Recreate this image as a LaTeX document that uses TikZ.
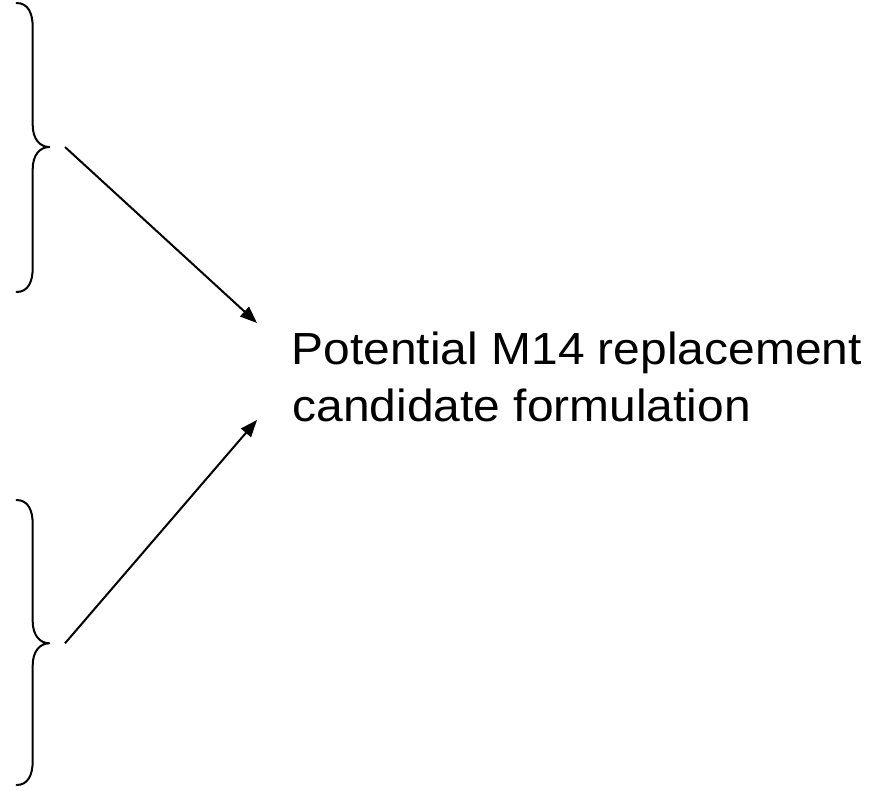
\documentclass[tikz,border=0pt]{standalone}
\usepackage{fontspec}
\setmainfont{Liberation Sans}
\newfontfamily\lblfont[FakeStretch=1.065]{Liberation Sans}
\usetikzlibrary{arrows.meta}
\tikzset{
  bracestroke/.style={draw=black, line width=2pt, line cap=round, line join=round},
  arrowstroke/.style={draw=black, line width=2pt, -{Triangle[length=17pt,width=13pt]}},
  lbl/.style={inner sep=0pt, anchor=base west, font=\lblfont\fontsize{45}{57}\selectfont}
}
\begin{document}
\begin{tikzpicture}[x=1pt,y=-1pt]
\useasboundingbox (0,0) rectangle (882,790);
% braces
\foreach \t/\m/\b/\nm in {3/147/292/bA, 500/643.3/785/bB}{
  \draw[bracestroke] (16.5,\t) .. controls (28,\t) and (32.7,\t+10) .. (32.7,\t+24)
    -- (32.7,\m-22) .. controls (32.7,\m-8) and (40,\m) .. (49.3,\m)
    .. controls (40,\m) and (32.7,\m+8) .. (32.7,\m+22)
    -- (32.7,\b-24) .. controls (32.7,\b-10) and (28,\b) .. (16.5,\b);
  \coordinate (\nm) at (65,\m);
}
% label
\node[lbl] (l1) at (291.5,364.3) {Potential M14 replacement};
\node[lbl] (l2) at (292.5,421.3) {candidate formulation};
\coordinate (tA) at (257,323);
\coordinate (tB) at (257,420);
\draw[arrowstroke] (bA) -- (tA);
\draw[arrowstroke] (bB) -- (tB);
\end{tikzpicture}
\end{document}
